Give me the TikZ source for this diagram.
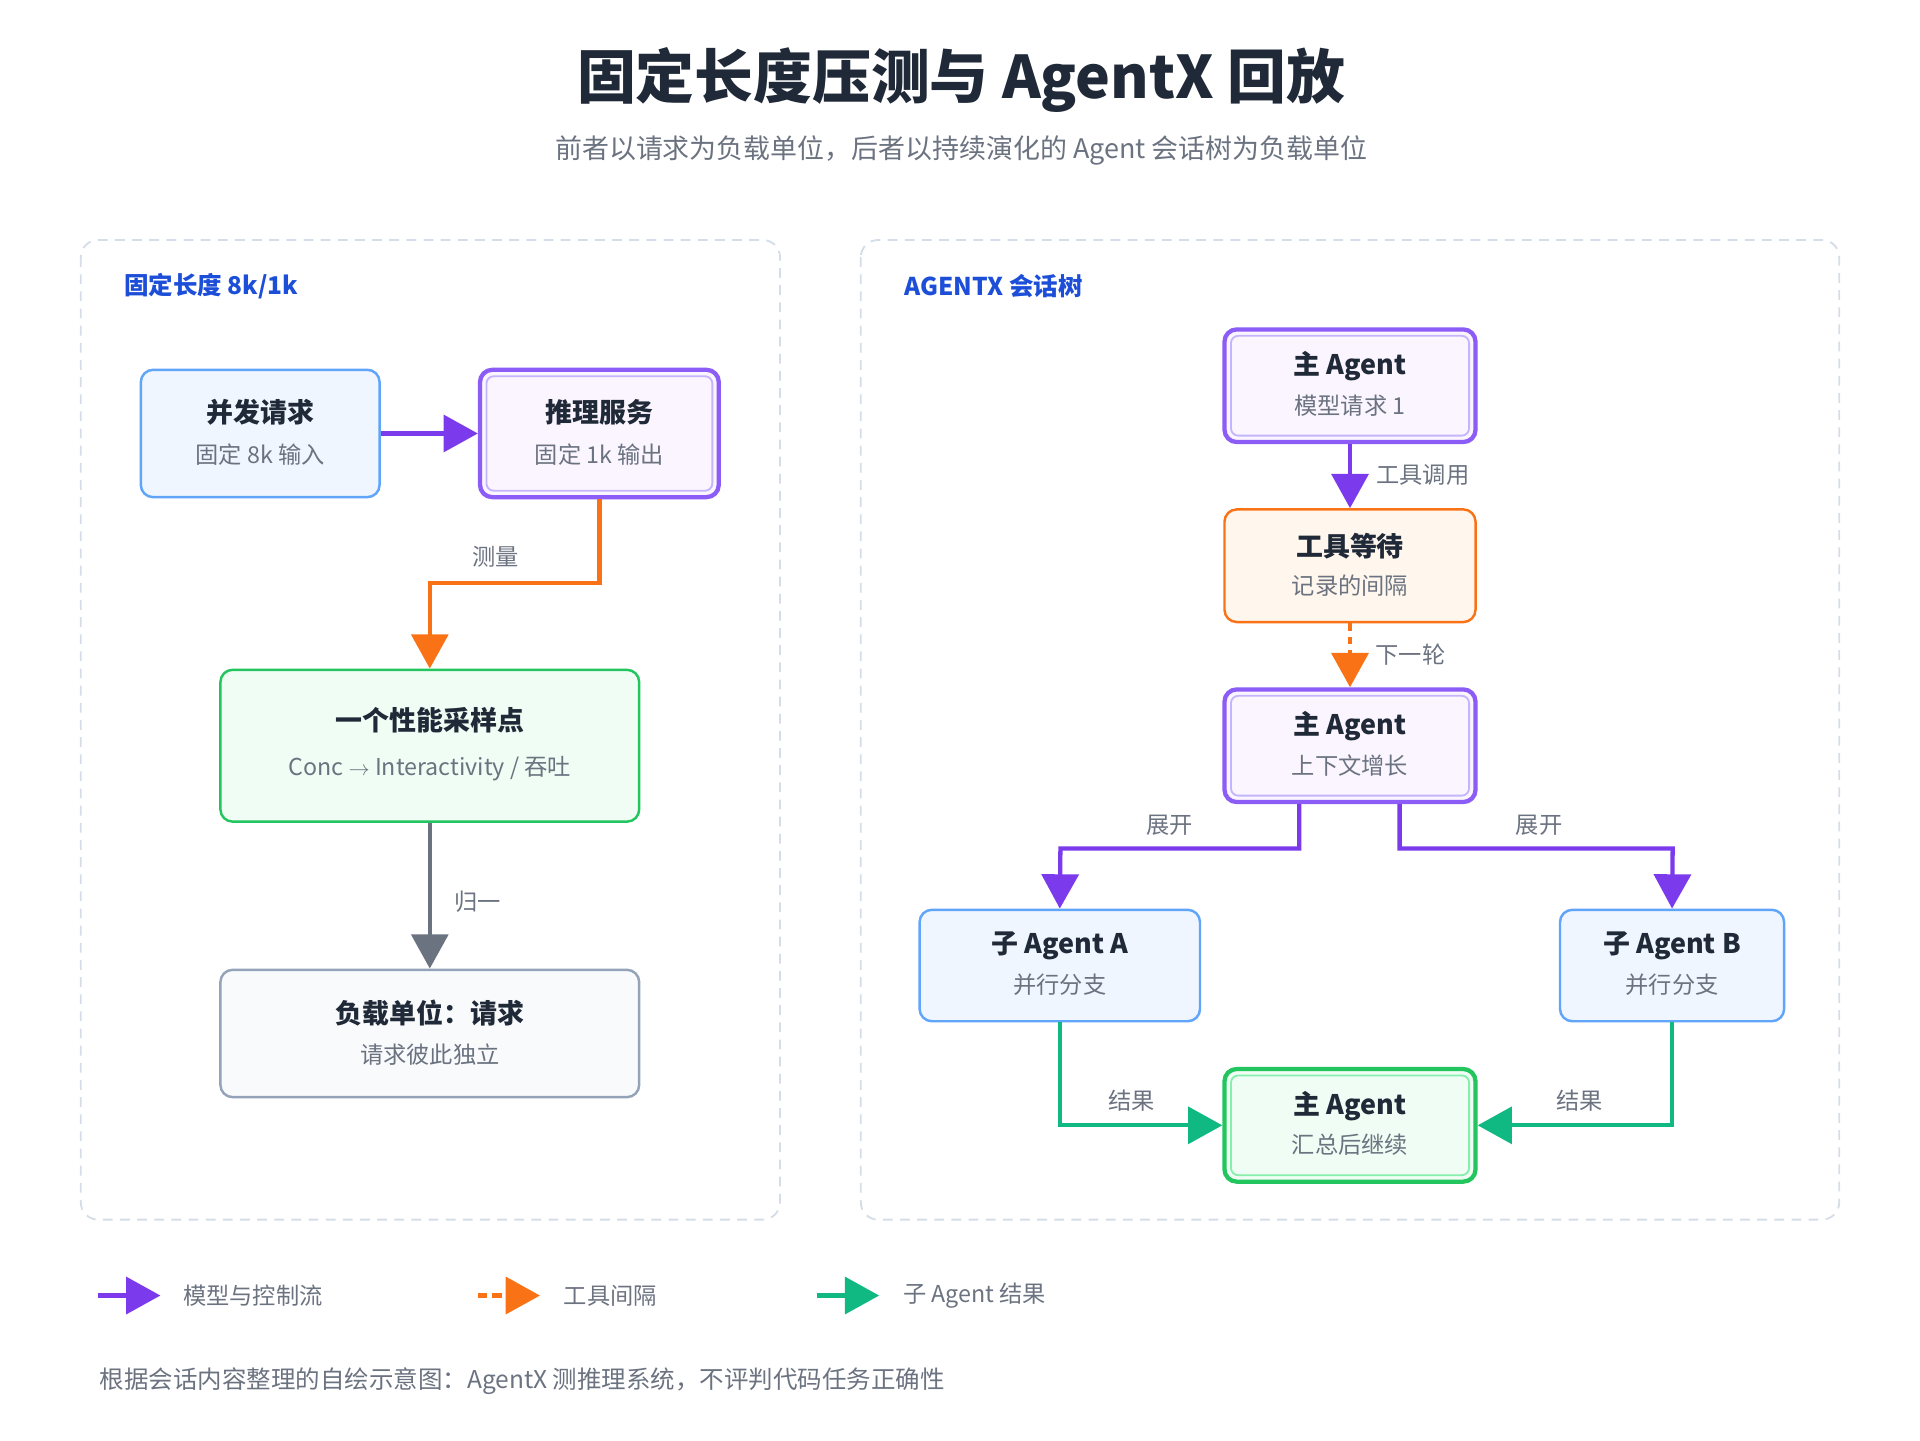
\documentclass[tikz,border=0pt]{standalone}
\usepackage{fontspec}
\setmainfont{Noto Sans CJK SC}
\usetikzlibrary{arrows.meta,calc}
\definecolor{pur}{HTML}{7C3AED}
\definecolor{purb}{HTML}{8B5CF6}
\definecolor{purl}{HTML}{C4B5FD}
\definecolor{purf}{HTML}{FAF5FF}
\definecolor{blu}{HTML}{60A5FA}
\definecolor{bluf}{HTML}{EFF6FF}
\definecolor{grn}{HTML}{22C55E}
\definecolor{grna}{HTML}{10B981}
\definecolor{grnl}{HTML}{86EFAC}
\definecolor{grnf}{HTML}{F0FDF4}
\definecolor{ora}{HTML}{F97316}
\definecolor{oraf}{HTML}{FFF7ED}
\definecolor{gry}{HTML}{94A3B8}
\definecolor{gryf}{HTML}{F8FAFC}
\definecolor{gra}{HTML}{6B7280}
\definecolor{txt}{HTML}{1F2937}
\definecolor{sub}{HTML}{6B7280}
\definecolor{ttl}{HTML}{1D4ED8}
\definecolor{dash}{HTML}{D5DDE8}
\begin{document}
\begin{tikzpicture}[x=1pt,y=-1pt,
 box/.style={rounded corners=10pt,line width=2pt,align=center,inner sep=0pt},
 bl/.style={box,draw=blu,fill=bluf},
 gr/.style={box,draw=grn,fill=grnf},
 gy/.style={box,draw=gry,fill=gryf},
 og/.style={box,draw=ora,fill=oraf},
 pu/.style={box,draw=purb,fill=purf,line width=3.5pt},
 gd/.style={box,draw=grn,fill=grnf,line width=3.5pt},
 t/.style={font=\fontsize{22}{25}\selectfont\bfseries,text=txt},
 s/.style={font=\fontsize{19}{22}\selectfont,text=sub},
 lab/.style={font=\fontsize{19}{22}\selectfont,text=sub},
 ar/.style={line width=3.5pt,-{Triangle[length=28pt,width=30pt]}},
 panel/.style={draw=dash,line width=1.5pt,dash pattern=on 8pt off 6pt,rounded corners=14pt},
 head/.style={font=\fontsize{20}{24}\selectfont\bfseries,text=ttl,anchor=west}]
\useasboundingbox (0,0) rectangle (1568,1176);
\node[font=\fontsize{48}{54}\selectfont\bfseries,text=txt] (title) at (785,65) {固定长度压测与 AgentX 回放};
\node[font=\fontsize{22}{26}\selectfont,text=sub] (subt) at (785,123) {前者以请求为负载单位，后者以持续演化的 Agent 会话树为负载单位};
\draw[panel] (66,196) rectangle (637,996);
\draw[panel] (703,196) rectangle (1502,996);
\node[head] (h1) at (98,234) {固定长度 8k/1k};
\node[head] (h2) at (735,234) {AGENTX 会话树};
\newcommand\bx[6]{% name style cx cy w h
 \node[#2,minimum width=#5pt,minimum height=#6pt] (#1) at (#3,#4) {};}
\newcommand\inner[2]{\draw[#2,line width=1.5pt,rounded corners=6pt] ($(#1.north west)+(7,7)$) rectangle ($(#1.south east)+(-7,-7)$);}
\newcommand\txt[4]{\node[t] at ($(#1.center)+(0,-#4)$) {#2}; \node[s] at ($(#1.center)+(0,#4)$) {#3};}
% left
\bx{a}{bl}{212.5}{354}{195}{104}\txt{a}{并发请求}{固定 8k 输入}{17}
\bx{b}{pu}{489.5}{354}{195}{104}\inner{b}{purl}\txt{b}{推理服务}{固定 1k 输出}{17}
\bx{c}{gr}{351}{609}{342}{124}\node[t] at (351,588) {一个性能采样点};\node[s] at (351,628) {Conc $\rightarrow$ Interactivity / 吞吐};
\bx{d}{gy}{351}{844}{342}{104}\txt{d}{负载单位：请求}{请求彼此独立}{17}
\draw[ar,pur] (a) -- (b);
\draw[ar,ora] (b.south) |- (351,476) -- (c.north);
\node[lab] at (405,455) {测量};
\draw[ar,gra] (c) -- (d);
\node[lab] at (390,736) {归一};
% right
\bx{m1}{pu}{1102.5}{315}{205}{92}\inner{m1}{purl}\txt{m1}{主 Agent}{模型请求 1}{16}
\bx{w}{og}{1102.5}{462}{205}{92}\txt{w}{工具等待}{记录的间隔}{16}
\bx{m2}{pu}{1102.5}{609}{205}{92}\inner{m2}{purl}\txt{m2}{主 Agent}{上下文增长}{16}
\bx{sa}{bl}{865.5}{788.5}{229}{91}\txt{sa}{子 Agent A}{并行分支}{16}
\bx{sb}{bl}{1365.5}{788.5}{183}{91}\txt{sb}{子 Agent B}{并行分支}{16}
\bx{m3}{gd}{1102.5}{919}{205}{92}\inner{m3}{grnl}\txt{m3}{主 Agent}{汇总后继续}{16}
\draw[ar,pur] (m1) -- (w);
\node[lab] at (1162,388) {工具调用};
\draw[ar,ora,dash pattern=on 6pt off 5pt] (w) -- (m2);
\node[lab] at (1152,535) {下一轮};
\draw[ar,pur] (m2.south -| 1061,0) |- (866,693) -- (sa.north);
\node[lab] at (955,674) {展开};
\draw[ar,pur] (m2.south -| 1143,0) |- (1366,693) -- (sb.north);
\node[lab] at (1257,674) {展开};
\draw[ar,grna] (sa.south) |- (m3.west);
\node[lab] at (924,899) {结果};
\draw[ar,grna] (sb.south) |- (m3.east);
\node[lab] at (1290,899) {结果};
% legend
\coordinate (l1a) at (80,1058);\coordinate (l1b) at (131,1058);
\draw[ar,pur] (l1a) -- (l1b);
\node[lab,anchor=west,text=gra] at (146,1058) {模型与控制流};
\coordinate (l2a) at (390,1058);\coordinate (l2b) at (441,1058);
\draw[ar,ora,dash pattern=on 8pt off 4pt] (l2a) -- (l2b);
\node[lab,anchor=west,text=gra] at (457,1058) {工具间隔};
\coordinate (l3a) at (667,1058);\coordinate (l3b) at (718,1058);
\draw[ar,grna] (l3a) -- (l3b);
\node[lab,anchor=west,text=gra] at (734,1058) {子 Agent 结果};
\node[lab,anchor=west,text=gra,font=\fontsize{20}{24}\selectfont] at (78,1128) {根据会话内容整理的自绘示意图：AgentX 测推理系统，不评判代码任务正确性};
\end{tikzpicture}
\end{document}
